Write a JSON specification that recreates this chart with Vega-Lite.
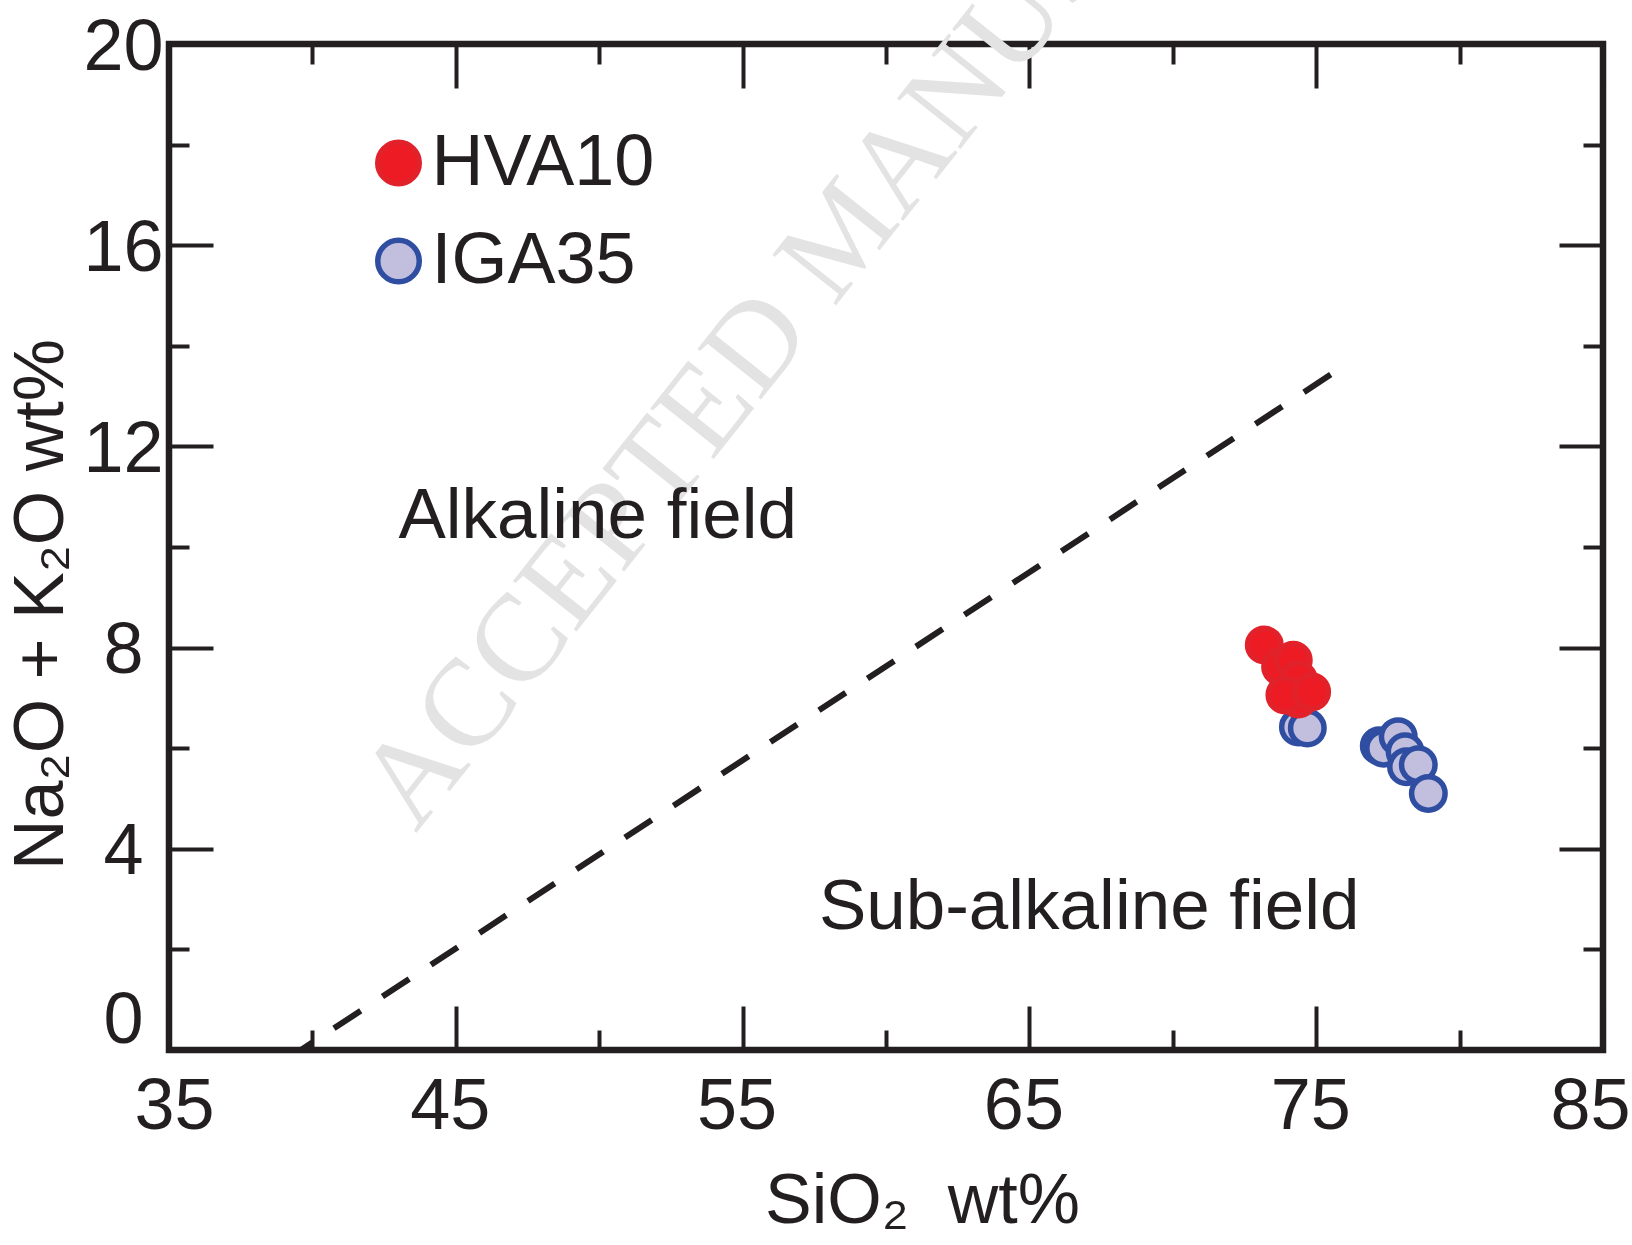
{
  "$schema": "https://vega.github.io/schema/vega-lite/v6.json",
  "width": 1434,
  "height": 1006,
  "autosize": {"type": "none"},
  "padding": {"left": 169, "top": 44, "right": 29, "bottom": 195},
  "background": "white",
  "config": {
    "view": {"stroke": "#231f20", "strokeWidth": 6.5},
    "font": "Liberation Sans",
    "axis": {
      "domain": false, "grid": false,
      "tickColor": "#231f20", "tickWidth": 4,
      "labelFont": "Liberation Sans", "labelFontSize": 72, "labelColor": "#231f20",
      "labelFlush": false, "labelOverlap": false, "labelBound": false,
      "titleFont": "Liberation Sans", "titleFontSize": 70, "titleColor": "#231f20", "titleFontWeight": "normal"
    }
  },
  "datasets": {
    "boundary": [{"SiO2": 39.6, "NaK": 0}, {"SiO2": 75.7, "NaK": 13.5}],
    "samples": [
      {"sample": "IGA35", "SiO2": 74.38, "NaK": 6.42},
      {"sample": "IGA35", "SiO2": 74.69, "NaK": 6.40},
      {"sample": "IGA35", "SiO2": 77.2, "NaK": 6.05},
      {"sample": "IGA35", "SiO2": 77.35, "NaK": 6.0},
      {"sample": "IGA35", "SiO2": 77.86, "NaK": 6.23},
      {"sample": "IGA35", "SiO2": 78.10, "NaK": 5.93},
      {"sample": "IGA35", "SiO2": 78.15, "NaK": 5.63},
      {"sample": "IGA35", "SiO2": 78.56, "NaK": 5.67},
      {"sample": "IGA35", "SiO2": 78.91, "NaK": 5.10},
      {"sample": "HVA10", "SiO2": 73.19, "NaK": 8.05},
      {"sample": "HVA10", "SiO2": 73.76, "NaK": 7.62},
      {"sample": "HVA10", "SiO2": 74.2, "NaK": 7.75},
      {"sample": "HVA10", "SiO2": 74.38, "NaK": 6.98},
      {"sample": "HVA10", "SiO2": 74.38, "NaK": 7.36},
      {"sample": "HVA10", "SiO2": 73.91, "NaK": 7.06},
      {"sample": "HVA10", "SiO2": 74.84, "NaK": 7.12}
    ]
  },
  "layer": [
    {
      "data": {"values": [{"SiO2": 43.6, "NaK": 4.3, "label": "ACCEPTED MANUSCRIPT"}]},
      "mark": {"type": "text", "angle": 308.5, "align": "left", "baseline": "alphabetic", "font": "Liberation Serif", "fontSize": 124, "color": "#e3e3e3"},
      "encoding": {
        "x": {"field": "SiO2", "type": "quantitative", "axis": null},
        "y": {"field": "NaK", "type": "quantitative", "axis": null},
        "text": {"field": "label"}
      }
    },
    {
      "data": {"name": "boundary"},
      "mark": {"type": "line", "color": "#231f20", "strokeWidth": 6, "strokeDash": [32, 26], "strokeDashOffset": 18.5, "strokeCap": "butt"},
      "encoding": {
        "x": {"field": "SiO2", "type": "quantitative", "scale": {"domain": [35, 85], "nice": false, "zero": false},
          "axis": {"orient": "bottom", "values": [35, 45, 55, 65, 75, 85], "tickSize": -44, "labelPadding": 65,
            "labelOffset": {"condition": [{"test": "datum.value === 35", "value": 5}, {"test": "datum.value === 85", "value": -13}], "value": -6},
            "title": "SiO₂\u00a0\u00a0wt%", "titleX": 753, "titleY": 172, "titleBaseline": "alphabetic", "titleAlign": "center"}},
        "y": {"field": "NaK", "type": "quantitative", "scale": {"domain": [0, 20], "nice": false, "zero": false},
          "axis": {"orient": "left", "values": [0, 4, 8, 12, 16, 20], "tickSize": -44, "labelPadding": 90, "labelAlign": "center",
            "labelBaseline": {"condition": {"test": "datum.value === 0", "value": "alphabetic"}, "value": "middle"},
            "labelOffset": {"condition": {"test": "datum.value === 0", "value": -8}, "value": 3},
            "title": "Na₂O + K₂O wt%", "titleX": -107, "titleY": 560, "titleBaseline": "alphabetic", "titleAlign": "center", "titleAngle": 270}}
      }
    },
    {
      "data": {"name": "boundary"},
      "mark": {"type": "line", "strokeOpacity": 0},
      "encoding": {
        "x": {"field": "SiO2", "type": "quantitative", "axis": {"orient": "bottom", "values": [40, 50, 60, 70, 80], "tickSize": -20, "labels": false, "title": null}},
        "y": {"field": "NaK", "type": "quantitative", "axis": {"orient": "left", "values": [2, 6, 10, 14, 18], "tickSize": -20, "labels": false, "title": null}}
      }
    },
    {
      "data": {"name": "boundary"},
      "mark": {"type": "line", "strokeOpacity": 0},
      "encoding": {
        "x": {"field": "SiO2", "type": "quantitative", "axis": {"orient": "top", "values": [35, 45, 55, 65, 75, 85], "tickSize": -44, "labels": false, "title": null}},
        "y": {"field": "NaK", "type": "quantitative", "axis": {"orient": "right", "values": [0, 4, 8, 12, 16, 20], "tickSize": -44, "labels": false, "title": null}}
      }
    },
    {
      "data": {"name": "boundary"},
      "mark": {"type": "line", "strokeOpacity": 0},
      "encoding": {
        "x": {"field": "SiO2", "type": "quantitative", "axis": {"orient": "top", "values": [40, 50, 60, 70, 80], "tickSize": -20, "labels": false, "title": null}},
        "y": {"field": "NaK", "type": "quantitative", "axis": {"orient": "right", "values": [2, 6, 10, 14, 18], "tickSize": -20, "labels": false, "title": null}}
      }
    },
    {
      "data": {"name": "samples"},
      "mark": {"type": "circle", "size": 1122, "strokeWidth": 5.5, "opacity": 1},
      "encoding": {
        "x": {"field": "SiO2", "type": "quantitative", "axis": null},
        "y": {"field": "NaK", "type": "quantitative", "axis": null},
        "fill": {"field": "sample", "type": "nominal",
          "scale": {"domain": ["HVA10", "IGA35"], "range": ["#ed1c24", "#c1bfdd"]},
          "legend": {"title": null, "orient": "none", "legendX": 193.5, "legendY": 83, "symbolSize": 1722, "symbolStrokeWidth": 5.5, "symbolType": "circle",
            "labelFontSize": 72, "labelFont": "Liberation Sans", "labelColor": "#231f20", "labelOffset": -3, "labelLimit": 500, "rowPadding": 26, "padding": 0}},
        "stroke": {"field": "sample", "type": "nominal",
          "scale": {"domain": ["HVA10", "IGA35"], "range": ["#e2222a", "#2f4ea2"]},
          "legend": {"title": null, "orient": "none", "legendX": 193.5, "legendY": 83, "symbolSize": 1722, "symbolStrokeWidth": 5.5, "symbolType": "circle",
            "labelFontSize": 72, "labelFont": "Liberation Sans", "labelColor": "#231f20", "labelOffset": -3, "labelLimit": 500, "rowPadding": 26, "padding": 0}}
      }
    },
    {
      "data": {"values": [
        {"SiO2": 43.0, "NaK": 10.18, "label": "Alkaline field"},
        {"SiO2": 57.66, "NaK": 2.40, "label": "Sub-alkaline field"}
      ]},
      "mark": {"type": "text", "align": "left", "baseline": "alphabetic", "font": "Liberation Sans", "fontSize": 71, "color": "#231f20"},
      "encoding": {
        "x": {"field": "SiO2", "type": "quantitative", "axis": null},
        "y": {"field": "NaK", "type": "quantitative", "axis": null},
        "text": {"field": "label"}
      }
    }
  ],
  "resolve": {"axis": {"x": "independent", "y": "independent"}}
}
